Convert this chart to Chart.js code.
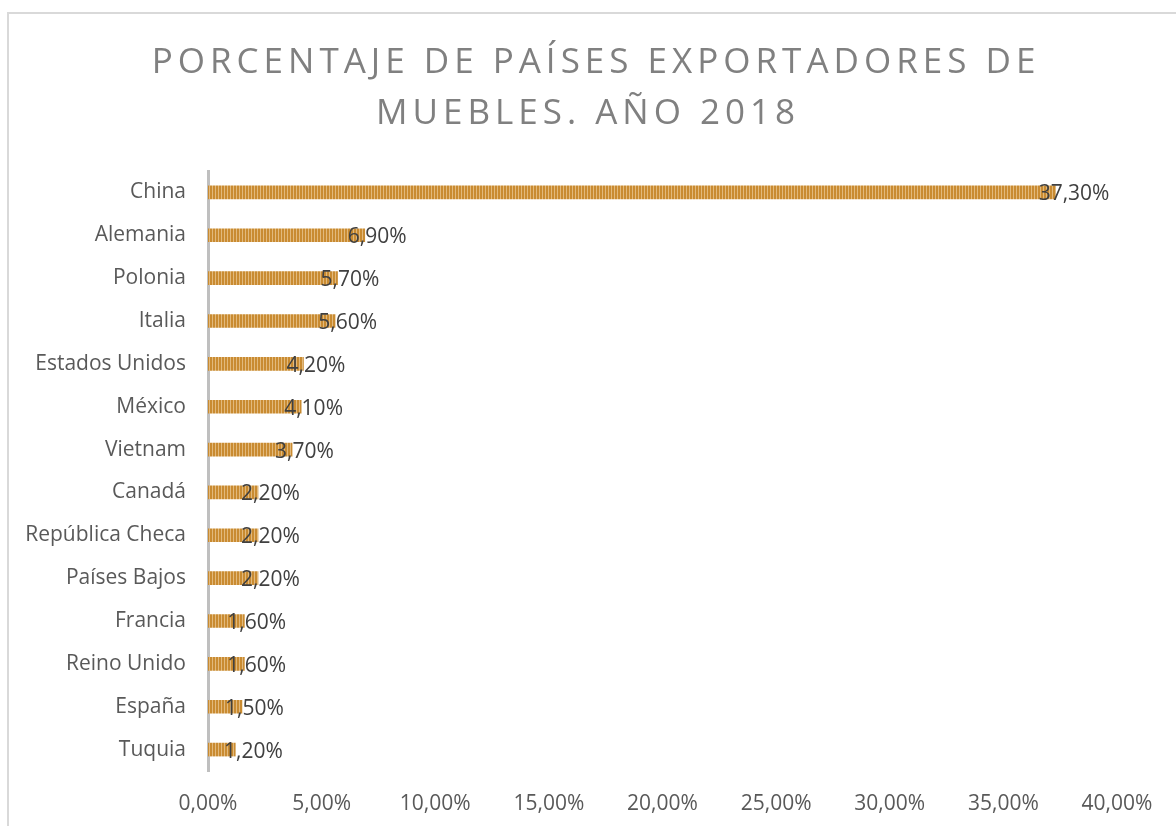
<!DOCTYPE html>
<html>
<head>
<meta charset="utf-8">
<script src="https://cdn.jsdelivr.net/npm/chart.js@4"></script>
<style>
  html, body { margin: 0; padding: 0; background: #fff; overflow: hidden; }
  #wrap { position: relative; width: 1176px; height: 826px; }
  #frame { position: absolute; left: 7px; top: 12px; width: 1200px; height: 900px; border: 2px solid #d9d9d9; box-sizing: border-box; }
  canvas { position: absolute; left: 0; top: 0; }
</style>
</head>
<body>
<div id="wrap">
  <div id="frame"></div>
  <canvas id="bar-chart" width="1176" height="826"></canvas>
</div>
<script>
const titleLines = ["PORCENTAJE DE PAÍSES EXPORTADORES DE", "MUEBLES. AÑO 2018"];
const countries = ["China", "Alemania", "Polonia", "Italia", "Estados Unidos", "México", "Vietnam",
  "Canadá", "República Checa", "Países Bajos", "Francia", "Reino Unido", "España", "Tuquia"];
const shares = [37.3, 6.9, 5.7, 5.6, 4.2, 4.1, 3.7, 2.2, 2.2, 2.2, 1.6, 1.6, 1.5, 1.2];
const xTicks = [0, 5, 10, 15, 20, 25, 30, 35, 40];

const FONT = "'Open Sans', 'Noto Sans', sans-serif";
const pct = v => v.toFixed(2).replace(".", ",") + "%";

// striped fill like the excel bars
function stripes() {
  let c = document.createElement("canvas");
  c.width = 3; c.height = 4;
  let g = c.getContext("2d");
  g.fillStyle = "#c98b31";
  g.fillRect(0, 0, 3, 4);
  g.fillStyle = "#e2b97c";
  g.fillRect(2, 0, 1, 4);
  return g.createPattern(c, "repeat");
}

const titlePlugin = {
  id: "spacedTitle",
  afterDraw(chart) {
    let ctx = chart.ctx;
    ctx.save();
    ctx.font = "35px " + FONT;
    ctx.fillStyle = "#808080";
    ctx.textAlign = "center";
    ctx.textBaseline = "alphabetic";
    ctx.letterSpacing = "5px";
    ctx.fillText(titleLines[0], 596, 73);
    ctx.fillText(titleLines[1], 588, 124);
    ctx.restore();
  }
};

const labelPlugin = {
  id: "barLabels",
  afterDatasetsDraw(chart) {
    let ctx = chart.ctx;
    let meta = chart.getDatasetMeta(0);
    ctx.save();
    ctx.font = "21px " + FONT;
    ctx.fillStyle = "#404040";
    ctx.textAlign = "left";
    ctx.textBaseline = "middle";
    meta.data.forEach((bar, i) => {
      let x = Math.max(bar.x - 17, chart.chartArea.left + 16);
      ctx.fillText(pct(shares[i]), x, bar.y + 2);
    });
    ctx.restore();
  }
};

let ctx = document.getElementById("bar-chart").getContext("2d");
new Chart(ctx, {
  type: "bar",
  data: {
    labels: countries,
    datasets: [{
      data: shares,
      backgroundColor: stripes(),
      borderWidth: 0,
      barThickness: 13,
    }],
  },
  options: {
    indexAxis: "y",
    responsive: false,
    animation: false,
    layout: { padding: { top: 171, right: 59, left: 0, bottom: 0 } },
    plugins: {
      legend: { display: false },
      tooltip: { enabled: false },
    },
    scales: {
      x: {
        min: 0,
        max: 40,
        afterBuildTicks: s => { s.ticks = xTicks.map(v => ({ value: v })); },
        afterFit: s => { s.height = 55; },
        grid: { display: false, drawTicks: false },
        border: { display: false },
        ticks: {
          padding: 20,
          color: "#595959",
          font: { family: FONT, size: 21 },
          maxRotation: 0,
          callback: v => pct(v),
        },
      },
      y: {
        afterFit: s => { s.width = 208; },
        grid: { display: false, drawTicks: false },
        border: { display: true, color: "#bfbfbf", width: 3 },
        ticks: {
          padding: 22,
          color: "#595959",
          font: { family: FONT, size: 21 },
        },
      },
    },
  },
  plugins: [titlePlugin, labelPlugin],
});
</script>
</body>
</html>
